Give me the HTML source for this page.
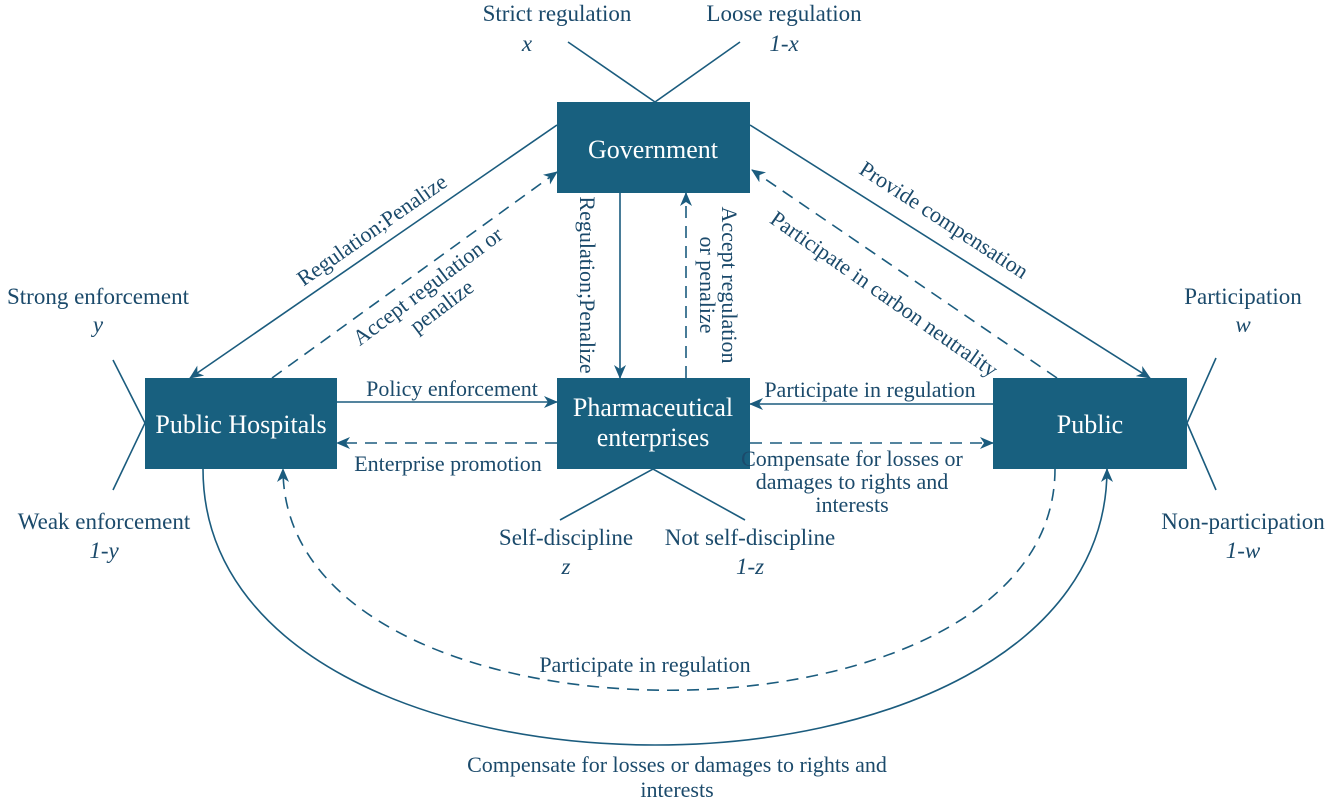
<!DOCTYPE html>
<html><head><meta charset="utf-8"><style>
html,body{margin:0;padding:0;background:#fff}
svg{display:block}
text{font-family:"Liberation Serif",serif;fill:#1b4a6b;font-size:22px}
.s{font-size:23px}
.b{fill:#fff;font-size:26px}
.i{font-style:italic}
</style></head><body>
<svg width="1332" height="802" viewBox="0 0 1332 802">
<defs>
<marker id="a" viewBox="0 0 14 12" refX="13" refY="6" markerWidth="14" markerHeight="12" markerUnits="userSpaceOnUse" orient="auto">
<path d="M0,0 L14,6 L0,12 L4,6 z" fill="#1b5c7e"/></marker>
</defs>
<g stroke="#1b5c7e" stroke-width="1.6" fill="none">
<path d="M568,42 L655,102 L740,42"/>
<path d="M113,360 L145,423 L113,490"/>
<path d="M1216,358 L1187,423 L1216,490"/>
<path d="M560,520 L653,469 L745,520"/>
<path d="M557,125 L190,378" marker-end="url(#a)"/>
<path d="M272,378 L557,172" stroke-dasharray="12,8" marker-end="url(#a)"/>
<path d="M620,193 L620,378" marker-end="url(#a)"/>
<path d="M686,378 L686,193" stroke-dasharray="12,8" marker-end="url(#a)"/>
<path d="M750,125 L1150,378" marker-end="url(#a)"/>
<path d="M1057,378 L752,170" stroke-dasharray="12,8" marker-end="url(#a)"/>
<path d="M337,402 L557,402" marker-end="url(#a)"/>
<path d="M557,443 L337,443" stroke-dasharray="12,8" marker-end="url(#a)"/>
<path d="M993,404 L750,404" marker-end="url(#a)"/>
<path d="M750,443 L993,443" stroke-dasharray="12,8" marker-end="url(#a)"/>
<path d="M203,469 C203,837 1107,837 1107,469" marker-end="url(#a)"/>
<path d="M1055,469 C1055,764 283,764 283,469" stroke-dasharray="12,8" marker-end="url(#a)"/>
</g>
<g fill="#18607f">
<rect x="557" y="102" width="193" height="91"/>
<rect x="145" y="378" width="192" height="91"/>
<rect x="557" y="378" width="193" height="91"/>
<rect x="993" y="378" width="194" height="91"/>
</g>
<g text-anchor="middle">
<text class="b" x="653" y="158">Government</text>
<text class="b" x="241" y="433">Public Hospitals</text>
<text class="b" x="653" y="416">Pharmaceutical</text>
<text class="b" x="653" y="446">enterprises</text>
<text class="b" x="1090" y="433">Public</text>

<text class="s" x="557" y="21">Strict regulation</text>
<text class="s i" x="527" y="51">x</text>
<text class="s" x="784" y="21">Loose regulation</text>
<text class="s i" x="784" y="51">1-x</text>
<text class="s" x="98" y="304">Strong enforcement</text>
<text class="s i" x="98" y="332">y</text>
<text class="s" x="104" y="529">Weak enforcement</text>
<text class="s i" x="104" y="558">1-y</text>
<text class="s" x="1243" y="304">Participation</text>
<text class="s i" x="1243" y="332">w</text>
<text class="s" x="1243" y="529">Non-participation</text>
<text class="s i" x="1243" y="558">1-w</text>
<text class="s" x="566" y="545">Self-discipline</text>
<text class="s i" x="566" y="574">z</text>
<text class="s" x="750" y="545">Not self-discipline</text>
<text class="s i" x="750" y="574">1-z</text>

<text x="452" y="396">Policy enforcement</text>
<text x="448" y="471">Enterprise promotion</text>
<text x="870" y="397">Participate in regulation</text>
<text x="852" y="466">Compensate for losses or</text>
<text x="852" y="489">damages to rights and</text>
<text x="852" y="512">interests</text>
<text x="645" y="672">Participate in regulation</text>
<text x="677" y="772">Compensate for losses or damages to rights and</text>
<text x="677" y="797">interests</text>

<text transform="translate(376,236) rotate(-35)">Regulation;Penalize</text>
<text transform="translate(432,292) rotate(-37)">Accept regulation or</text>
<text transform="translate(446,312) rotate(-37)">penalize</text>
<text transform="translate(580,285) rotate(90)">Regulation;Penalize</text>
<text transform="translate(722,285) rotate(90)">Accept regulation</text>
<text transform="translate(700,285) rotate(90)">or penalize</text>
<text transform="translate(940,226) rotate(33)">Provide compensation</text>
<text transform="translate(880,300) rotate(35)">Participate in carbon neutrality</text>
</g>
</svg>
</body></html>
